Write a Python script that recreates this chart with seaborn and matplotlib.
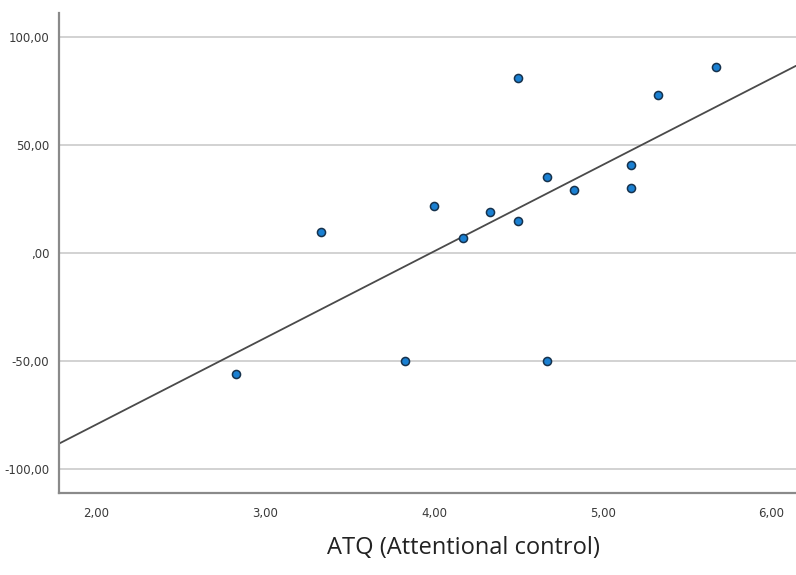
import matplotlib
matplotlib.use("Agg")
import matplotlib.pyplot as plt
import seaborn as sns
import pandas as pd

# Data
atq = [2.83, 3.33, 3.83, 4.00, 4.17, 4.33, 4.50, 4.50, 4.67, 4.67, 4.83, 5.17, 5.17, 5.33, 5.67]
score = [-56, 10, -50, 22, 7, 19, 81, 15, 35, -50, 29, 41, 30, 73, 86]
x_ticks = [2, 3, 4, 5, 6]
x_tick_labels = ["2,00", "3,00", "4,00", "5,00", "6,00"]
y_ticks = [-100, -50, 0, 50, 100]
y_tick_labels = ["-100,00", "-50,00", ",00", "50,00", "100,00"]
x_label = "ATQ (Attentional control)"

df = pd.DataFrame({"atq": atq, "score": score})

XLIM = (1.778, 6.145)
YLIM = (-111, 111)

sns.set_style("white")
fig = plt.figure(figsize=(7.96, 5.75), dpi=100)
ax = fig.add_axes([0.074, 0.1426, 0.926, 0.8344])
ax.set_xlim(*XLIM)
ax.set_ylim(*YLIM)

ax.set_yticks(y_ticks)
ax.yaxis.grid(True, color="#d2d2d2", linewidth=1.4, zorder=0)
ax.xaxis.grid(False)
ax.set_axisbelow(True)

sns.regplot(data=df, x="atq", y="score", ax=ax, ci=None, truncate=False,
            scatter_kws=dict(s=34, color="#1a80d2", edgecolors="#16324d",
                             linewidths=1.1, alpha=1, zorder=3),
            line_kws=dict(color="#4a4a4a", linewidth=1.3, zorder=2))

ax.set_xlim(*XLIM)
ax.set_ylim(*YLIM)
ax.set_xticks(x_ticks)
ax.set_xticklabels(x_tick_labels)
ax.set_yticks(y_ticks)
ax.set_yticklabels(y_tick_labels)
ax.tick_params(axis="both", length=0, labelsize=8.5, colors="#3a3a3a")
ax.tick_params(axis="x", pad=10)
ax.tick_params(axis="y", pad=7)
ax.set_xlabel("")
ax.set_ylabel("")

for side in ["top", "right"]:
    ax.spines[side].set_visible(False)
for side in ["left", "bottom"]:
    ax.spines[side].set_color("#8a8a8a")
    ax.spines[side].set_linewidth(1.6)

fig.text(0.582, 0.047, x_label, ha="center", va="center", fontsize=17,
         family="Open Sans", color="#222222")

fig.savefig("out.png", dpi=100)
